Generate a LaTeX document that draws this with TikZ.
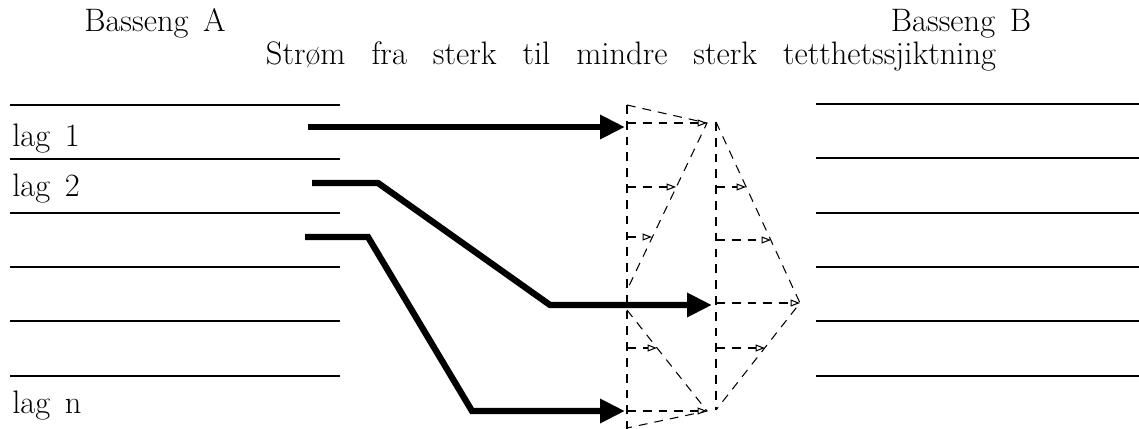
\documentclass[tikz,border=0pt]{standalone}
\usetikzlibrary{arrows.meta}
\newcommand\wordgap[1]{\spaceskip #1\relax}
\begin{document}
\begin{tikzpicture}[x=0.02cm,y=-0.02cm,
    every node/.style={font=\fontsize{18.5}{22}\selectfont\wordgap{0.45em}},
    layer/.style={line width=0.6pt},
    flow/.style={line width=3.6pt, -{Triangle[length=0.5cm,width=0.46cm]}},
    profile/.style={line width=0.6pt, dash pattern=on 5pt off 4pt},
    vel/.style={profile, -{Triangle[open,length=0.19cm,width=0.14cm]}}]
  \useasboundingbox (0,0) rectangle (1139,429);

  % titles
  \node[anchor=base] (bassA) at (155,32) {Basseng A};
  \node[anchor=base] (bassB) at (961,32) {Basseng B};
  \node[anchor=base] (title) at (631,65) {\wordgap{0.8em}Strøm fra sterk til mindre sterk tetthetssjiktning};

  % layers basin A
  \draw[layer] (10,105) -- (340,105);
  \draw[layer] (10,159) -- (340,159);
  \draw[layer] (10,213) -- (340,213);
  \draw[layer] (10,267) -- (340,267);
  \draw[layer] (10,321) -- (340,321);
  \draw[layer] (10,376) -- (340,376);

  \node[anchor=base west, inner sep=0pt] (lag1) at (12,147) {lag 1};
  \node[anchor=base west, inner sep=0pt] (lag2) at (12,196) {lag 2};
  \node[anchor=base west, inner sep=0pt] (lagn) at (12,413) {lag n};

  % layers basin B
  \draw[layer] (816,104) -- (1139,104);
  \draw[layer] (816,158) -- (1139,158);
  \draw[layer] (816,213) -- (1139,213);
  \draw[layer] (816,267) -- (1139,267);
  \draw[layer] (816,321) -- (1139,321);
  \draw[layer] (816,376) -- (1139,376);

  % flow arrows
  \coordinate (S1) at (308,127);
  \coordinate (E1) at (625,127);
  \draw[flow] (S1) -- (E1);

  \coordinate (S2) at (312,183);
  \coordinate (K2a) at (378,183);
  \coordinate (K2b) at (550,305);
  \coordinate (E2) at (712,305);
  \draw[flow] (S2) -- (K2a) -- (K2b) -- (E2);

  \coordinate (S3) at (305,237);
  \coordinate (K3a) at (368,237);
  \coordinate (K3b) at (472,411);
  \coordinate (E3) at (625,411);
  \draw[flow] (S3) -- (K3a) -- (K3b) -- (E3);

  % velocity profile, first column
  \def\ca{627} % column x
  \coordinate (T1) at (\ca,105);
  \coordinate (M1) at (707,123);
  \coordinate (B1) at (\ca,290);
  \draw[profile] (\ca,105) -- (\ca,429);
  \draw[profile] (T1) -- (M1) -- (B1);
  \coordinate (T3) at (\ca,310);
  \coordinate (M3) at (707,411);
  \coordinate (B3) at (\ca,428);
  \draw[profile] (T3) -- (M3) -- (B3);

  \draw[vel] (\ca,123) -- (M1);
  \draw[vel] (\ca,187) -- (676,187);
  \draw[vel] (\ca,237) -- (652,237);
  \draw[vel] (\ca,348) -- (657,348);
  \draw[vel] (\ca,411) -- (M3);

  % velocity profile, second column
  \def\cb{716} % column x
  \coordinate (T2) at (\cb,122);
  \coordinate (M2) at (800,303);
  \coordinate (B2) at (\cb,410);
  \draw[profile] (T2) -- (B2);
  \draw[profile] (T2) -- (M2) -- (B2);

  \draw[vel] (\cb,187) -- (746,187);
  \draw[vel] (\cb,240) -- (771,240);
  \draw[vel] (\cb,303) -- (M2);
  \draw[vel] (\cb,348) -- (765,348);

\end{tikzpicture}
\end{document}
